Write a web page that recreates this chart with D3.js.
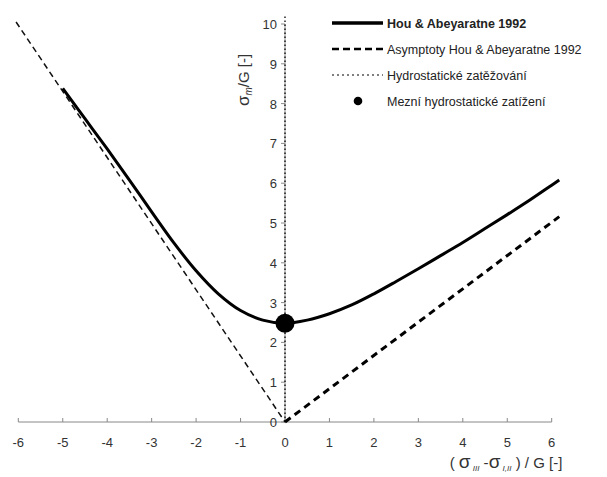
<!DOCTYPE html>
<html><head><meta charset="utf-8">
<script src="https://cdn.jsdelivr.net/npm/d3@7"></script>
<style>body{margin:0;background:#fff}svg{display:block}text{font-family:"Liberation Sans",Arial,sans-serif}</style>
</head><body><svg id="c" width="607" height="477"></svg>
<script>
// Data
const curveX = [-5,-4.5,-4,-3.5,-3,-2.5,-2,-1.5,-1,-0.5,0,0.5,1,1.5,2,2.5,3,3.5,4,4.5,5,5.5,6,6.17];
const curveY = [8.38,7.62,6.86,6.08,5.28,4.50,3.80,3.22,2.80,2.56,2.48,2.56,2.72,2.94,3.22,3.53,3.85,4.18,4.51,4.86,5.21,5.57,5.95,6.08];
const asymLeftX = [-6.05,0];
const asymLeftY = [10.05,0];
const asymRightX = [0,6.17];
const asymRightY = [0,5.16];
const hydroX = [0,0];
const hydroY = [0,10.2];
const limitPoint = [0,2.48];
const xTicks = [-6,-5,-4,-3,-2,-1,0,1,2,3,4,5,6];
const yTicks = [0,1,2,3,4,5,6,7,8,9,10];
const legendLabels = ["Hou & Abeyaratne 1992","Asymptoty Hou & Abeyaratne 1992","Hydrostatické zatěžování","Mezní hydrostatické zatížení"];

const svg = d3.select("#c");
const x = d3.scaleLinear().domain([-6,6]).range([18.3,551.7]);
const y = d3.scaleLinear().domain([0,10]).range([422,24]);
const axisCol = "#888";
const txtCol = "#333";

// x axis
const gx = svg.append("g").attr("transform","translate(0,422)");
gx.append("line").attr("x1",x(-6)).attr("x2",x(6)).attr("stroke",axisCol).attr("stroke-width",1);
gx.selectAll("line.t").data(xTicks).join("line").attr("class","t")
  .attr("x1",d=>x(d)).attr("x2",d=>x(d)).attr("y1",0).attr("y2",-4).attr("stroke",axisCol);
gx.selectAll("text").data(xTicks).join("text")
  .attr("x",d=>x(d)).attr("y",25).attr("text-anchor","middle").attr("font-size",13).attr("fill",txtCol)
  .text(d=>d<0?"-"+Math.abs(d):d);

// y axis
const gy = svg.append("g").attr("transform",`translate(${x(0)},0)`);
gy.append("line").attr("y1",y(0)).attr("y2",y(10)).attr("stroke",axisCol);
gy.selectAll("line.t").data(yTicks).join("line").attr("class","t")
  .attr("x1",0).attr("x2",-4).attr("y1",d=>y(d)).attr("y2",d=>y(d)).attr("stroke",axisCol);
gy.selectAll("text").data(yTicks).join("text")
  .attr("x",-8).attr("y",d=>y(d)+5).attr("text-anchor","end").attr("font-size",13).attr("fill",txtCol)
  .text(d=>d);

const line = d3.line().x(d=>x(d[0])).y(d=>y(d[1]));
const zip = (a,b)=>a.map((v,i)=>[v,b[i]]);

// hydrostatic dotted
svg.append("path").datum(zip(hydroX,hydroY)).attr("d",line).attr("fill","none")
  .attr("stroke","#000").attr("stroke-width",1.3).attr("stroke-dasharray","1.5,2.5");
// asymptotes
svg.append("path").datum(zip(asymLeftX,asymLeftY)).attr("d",line).attr("fill","none")
  .attr("stroke","#111").attr("stroke-width",1.5).attr("stroke-dasharray","6,4");
svg.append("path").datum(zip(asymRightX,asymRightY)).attr("d",line).attr("fill","none")
  .attr("stroke","#000").attr("stroke-width",3).attr("stroke-dasharray","7,5");
// main curve
svg.append("path").datum(zip(curveX,curveY)).attr("d",d3.line().x(d=>x(d[0])).y(d=>y(d[1])).curve(d3.curveCatmullRom.alpha(0.5)))
  .attr("fill","none").attr("stroke","#000").attr("stroke-width",3);
// limit point
svg.append("circle").attr("cx",x(limitPoint[0])).attr("cy",y(limitPoint[1])).attr("r",9.5).attr("fill","#000");

// legend
const lg = svg.append("g");
const rows = [23,49,75,101];
lg.append("line").attr("x1",332).attr("x2",383).attr("y1",rows[0]).attr("y2",rows[0]).attr("stroke","#000").attr("stroke-width",3.5);
lg.append("line").attr("x1",332).attr("x2",385).attr("y1",rows[1]).attr("y2",rows[1]).attr("stroke","#000").attr("stroke-width",2.5).attr("stroke-dasharray","7,4");
lg.append("line").attr("x1",332).attr("x2",383).attr("y1",rows[2]).attr("y2",rows[2]).attr("stroke","#000").attr("stroke-width",1).attr("stroke-dasharray","2,3");
lg.append("circle").attr("cx",358).attr("cy",rows[3]).attr("r",4.3).attr("fill","#000");
lg.selectAll("text").data(legendLabels).join("text")
  .attr("x",387).attr("y",(d,i)=>rows[i]+4.5).attr("font-size",12.5).attr("fill","#222")
  .attr("font-weight",(d,i)=>i===0?"bold":"normal").text(d=>d);

// y axis title
const yt = svg.append("text").attr("transform","translate(249,80) rotate(-90)").attr("text-anchor","middle")
  .attr("font-size",15).attr("fill",txtCol);
yt.append("tspan").attr("font-size",17).text("σ");
yt.append("tspan").attr("font-size",10).attr("font-style","italic").attr("dy",3).text("m");
yt.append("tspan").attr("dy",-3).text("/G [-]");

// x axis title
const xt = svg.append("text").attr("x",506).attr("y",468).attr("text-anchor","middle").attr("font-size",15).attr("fill",txtCol);
xt.append("tspan").text("( ");
xt.append("tspan").attr("font-size",19).text("σ");
xt.append("tspan").attr("font-size",8).attr("font-style","italic").attr("dy",3).text(" III");
xt.append("tspan").attr("dy",-3).text(" -");
xt.append("tspan").attr("font-size",19).text("σ");
xt.append("tspan").attr("font-size",8).attr("font-style","italic").attr("dy",3).text(" I,II");
xt.append("tspan").attr("dy",-3).text(" ) / G [-]");
</script></body></html>
